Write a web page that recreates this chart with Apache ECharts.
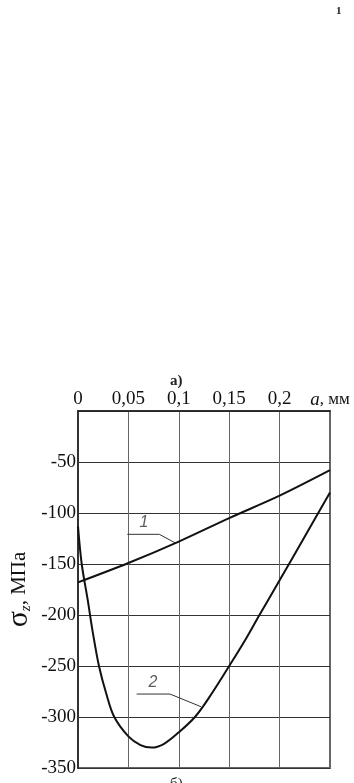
<!DOCTYPE html>
<html><head><meta charset="utf-8">
<script src="https://cdn.jsdelivr.net/npm/echarts@6/dist/echarts.min.js"></script>
<style>html,body{margin:0;padding:0;background:#fff}#c{width:354px;height:783px}</style>
</head><body><div id="c"></div>
<script>
// ---- data ----
const xTicks = [0, 0.05, 0.1, 0.15, 0.2, 0.25];
const yTicks = [0, -50, -100, -150, -200, -250, -300, -350];
const curve1X = [0, 0.05, 0.1, 0.15, 0.2, 0.25];
const curve1Y = [-168, -149, -128, -105, -83, -58];
const curve2X = [0, 0.0037, 0.0096, 0.0145, 0.0208, 0.028, 0.036, 0.05, 0.062, 0.073, 0.085, 0.1, 0.116, 0.13, 0.15, 0.165, 0.18, 0.2, 0.225, 0.25];
const curve2Y = [-113, -150, -185, -216, -250, -277, -300, -319, -327.5, -330, -326.5, -315, -300, -281, -250, -226, -200, -166, -123, -80];
const leader1X = [0.0489, 0.0807, 0.0972];
const leader1Y = [-120.9, -120.9, -129.7];
const leader2X = [0.0582, 0.0913, 0.122];
const leader2Y = [-277.5, -277.5, -289.9];
const curveLabels = ['1', '2'];
const curveLabelX = [0.0655, 0.0744];
const curveLabelY = [-109.8, -266.7];

const zip = (a, b) => a.map((v, i) => [v, b[i]]);
const serif = 'Liberation Serif';
const chart = echarts.init(document.getElementById('c'), null, {renderer: 'canvas'});
chart.setOption({
  animation: false,
  backgroundColor: '#fff',
  grid: {left: 78, right: 24, top: 411, bottom: 15, containLabel: false, outerBoundsMode: 'none',
    show: true, borderColor: '#666', borderWidth: 2, backgroundColor: 'transparent'},
  xAxis: {
    type: 'value', position: 'top', min: xTicks[0], max: xTicks[xTicks.length - 1], interval: 0.05,
    axisLine: {show: true, onZero: false, lineStyle: {color: '#222', width: 1.5}},
    axisTick: {show: false},
    splitLine: {show: true, lineStyle: {color: '#666', width: 1}},
    axisLabel: {
      margin: 2, color: '#111', fontFamily: serif, fontSize: 19, hideOverlap: false,
      formatter: v => Math.abs(v - 0.25) < 1e-9 ? '{i|a}{n|, мм}' : String(+v.toFixed(2)).replace('.', ','),
      rich: {i: {fontFamily: serif, fontStyle: 'italic', fontSize: 19, color: '#111'}, n: {fontFamily: serif, fontSize: 17, color: '#111'}}
    }
  },
  yAxis: {
    type: 'value', min: yTicks[yTicks.length - 1], max: yTicks[0], interval: 50,
    axisLine: {show: true, onZero: false, lineStyle: {color: '#222', width: 1.5}},
    axisTick: {show: false},
    splitLine: {show: true, lineStyle: {color: '#333', width: 1}},
    axisLabel: {margin: 2, color: '#111', fontFamily: serif, fontSize: 19, formatter: v => v === 0 ? '' : String(v)},
    name: '{s|σ}{z|z}{m|, МПа}', nameLocation: 'middle', nameRotate: 90, nameGap: 44, nameMoveOverlap: false,
    nameTextStyle: {
      rich: {
        s: {fontFamily: serif, fontSize: 30, color: '#111'},
        z: {fontFamily: serif, fontStyle: 'italic', fontSize: 15, color: '#111', verticalAlign: 'bottom', padding: [14, 0, 0, 0]},
        m: {fontFamily: serif, fontSize: 21, color: '#111'}
      }
    }
  },
  series: [
    {type: 'line', data: zip(curve1X, curve1Y), smooth: 0.3, showSymbol: false, lineStyle: {color: '#111', width: 2}, z: 5},
    {type: 'line', data: zip(curve2X, curve2Y), smooth: 0.35, showSymbol: false, lineStyle: {color: '#111', width: 2}, z: 5},
    {type: 'line', data: zip(leader1X, leader1Y), showSymbol: false, lineStyle: {color: '#333', width: 1}, z: 4},
    {type: 'line', data: zip(leader2X, leader2Y), showSymbol: false, lineStyle: {color: '#333', width: 1}, z: 4},
    {type: 'scatter', symbolSize: 0, z: 6,
      data: curveLabels.map((t, i) => ({value: [curveLabelX[i], curveLabelY[i]], name: t})),
      label: {show: true, position: 'inside', formatter: p => p.name, fontFamily: 'Liberation Sans', fontStyle: 'italic', fontSize: 16, color: '#333'}}
  ],
  graphic: [
    {type: 'text', left: 336, top: 6, style: {text: '1', fontFamily: serif, fontWeight: 'bold', fontSize: 11, fill: '#222'}},
    {type: 'text', left: 170, top: 374, style: {text: 'а)', fontFamily: serif, fontWeight: 'bold', fontSize: 15, fill: '#222'}},
    {type: 'text', left: 170, top: 777, style: {text: 'б)', fontFamily: serif, fontSize: 15, fill: '#222'}}
  ]
});
</script></body></html>
